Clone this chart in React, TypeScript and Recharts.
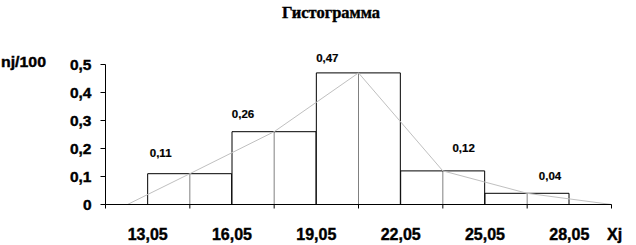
import {
  ComposedChart, Bar, Line, XAxis, YAxis, ReferenceLine, LabelList,
} from "recharts";

const CLASS_BOUNDS = ["13,05", "16,05", "19,05", "22,05", "25,05", "28,05"];
const REL_FREQ = [0.11, 0.26, 0.47, 0.12, 0.04];
const POLYGON_X = [0.26, 1, 2, 3, 4, 5, 6];
const POLYGON_Y = [0, 0.11, 0.26, 0.47, 0.12, 0.04, 0];
const Y_TICKS = [0, 0.1, 0.2, 0.3, 0.4, 0.5];

const FONT = "'Liberation Sans', Arial, sans-serif";
const SERIF = "'Liberation Serif', 'Times New Roman', serif";
// the original text is a heavy, slightly condensed bold; a thin stroke thickens it
const HEAVY = { fontFamily: FONT, fontWeight: "bold" as const, fill: "#000", stroke: "#000", strokeWidth: 0.4 };

const fmt = (v: number) => (v === 0 ? "0" : String(v).replace(".", ","));

const barData = REL_FREQ.map((f, i) => ({ x: i + 1, f }));
const polyData = POLYGON_X.map((x, i) => ({ x, y: POLYGON_Y[i] }));
const xTicks = CLASS_BOUNDS.flatMap((_, i) => [i, i + 0.5]).concat(CLASS_BOUNDS.length);

// labels were placed by hand in the original: [dx from bar centre, gap above bar top]
const LABEL_NUDGE = [[-29, 17], [-31, 14], [-31, 11], [21, 19], [23, 13]];

function XTick({ x, y, payload }: any) {
  const v = payload.value;
  if (Number.isInteger(v)) {
    return <line x1={x} x2={x} y1={y} y2={y + 4} stroke="#000" />;
  }
  return (
    <text x={x} y={y + 35.5} textAnchor="middle" fontSize={16} {...HEAVY}>
      {CLASS_BOUNDS[Math.floor(v)]}
    </text>
  );
}

function FreqLabel(props: any) {
  const { x, y, width, index, value } = props;
  const [dx, gap] = LABEL_NUDGE[index] ?? [0, 12];
  return (
    <text x={x + width / 2 + dx} y={y - gap} textAnchor="middle" fontSize={11.5} {...HEAVY} strokeWidth={0.2}>
      {fmt(value)}
    </text>
  );
}

export default function App() {
  return (
    <div style={{ position: "absolute", left: 0, top: 0, width: 636, height: 245, background: "#fff" }}>
      <ComposedChart
        width={636}
        height={245}
        data={barData}
        margin={{ top: 64.5, right: 24.5, bottom: 0.5, left: 0 }}
        barCategoryGap={0}
        barGap={0}
      >
        <XAxis
          dataKey="x"
          type="number"
          domain={[0, 6]}
          allowDataOverflow
          ticks={xTicks}
          interval={0}
          height={40}
          tickLine={false}
          tickSize={0}
          tickMargin={0}
          axisLine={{ stroke: "#000" }}
          tick={<XTick />}
        />
        <XAxis xAxisId="poly" dataKey="x" type="number" domain={[0, 6]} hide />
        <YAxis
          type="number"
          domain={[0, 0.5]}
          ticks={Y_TICKS}
          interval={0}
          width={105.5}
          tickSize={5}
          tickMargin={9}
          tickFormatter={fmt}
          axisLine={{ stroke: "#000" }}
          tickLine={{ stroke: "#000" }}
          tick={{ ...HEAVY, fontSize: 15.5 }}
        />
        <Bar dataKey="f" fill="#fff" stroke="#000" strokeWidth={1} isAnimationActive={false}>
          <LabelList dataKey="f" content={<FreqLabel />} />
        </Bar>
        {REL_FREQ.map((f, i) => (
          <ReferenceLine
            key={i}
            segment={[{ x: i + 1, y: 0 }, { x: i + 1, y: f }]}
            stroke={i % 2 ? "#000" : "#808080"}
            strokeDasharray={i % 2 ? "1 1" : undefined}
          />
        ))}
        <Line
          xAxisId="poly"
          data={polyData}
          dataKey="y"
          type="linear"
          stroke="#c0c0c0"
          strokeWidth={1}
          dot={false}
          isAnimationActive={false}
        />
      </ComposedChart>
      <svg width={636} height={245} style={{ position: "absolute", left: 0, top: 0, pointerEvents: "none" }}>
        <text x={331} y={18} textAnchor="middle" fontFamily={SERIF} fontWeight="bold" fontSize={16.5}
          fill="#000" stroke="#000" strokeWidth={0.4} textLength={98} lengthAdjust="spacingAndGlyphs">
          Гистограмма
        </text>
        <text x={1} y={67} fontSize={14.5} {...HEAVY} textLength={45} lengthAdjust="spacingAndGlyphs">
          nj/100
        </text>
        <text x={607} y={240} fontSize={16} {...HEAVY}>
          Xj
        </text>
      </svg>
    </div>
  );
}
